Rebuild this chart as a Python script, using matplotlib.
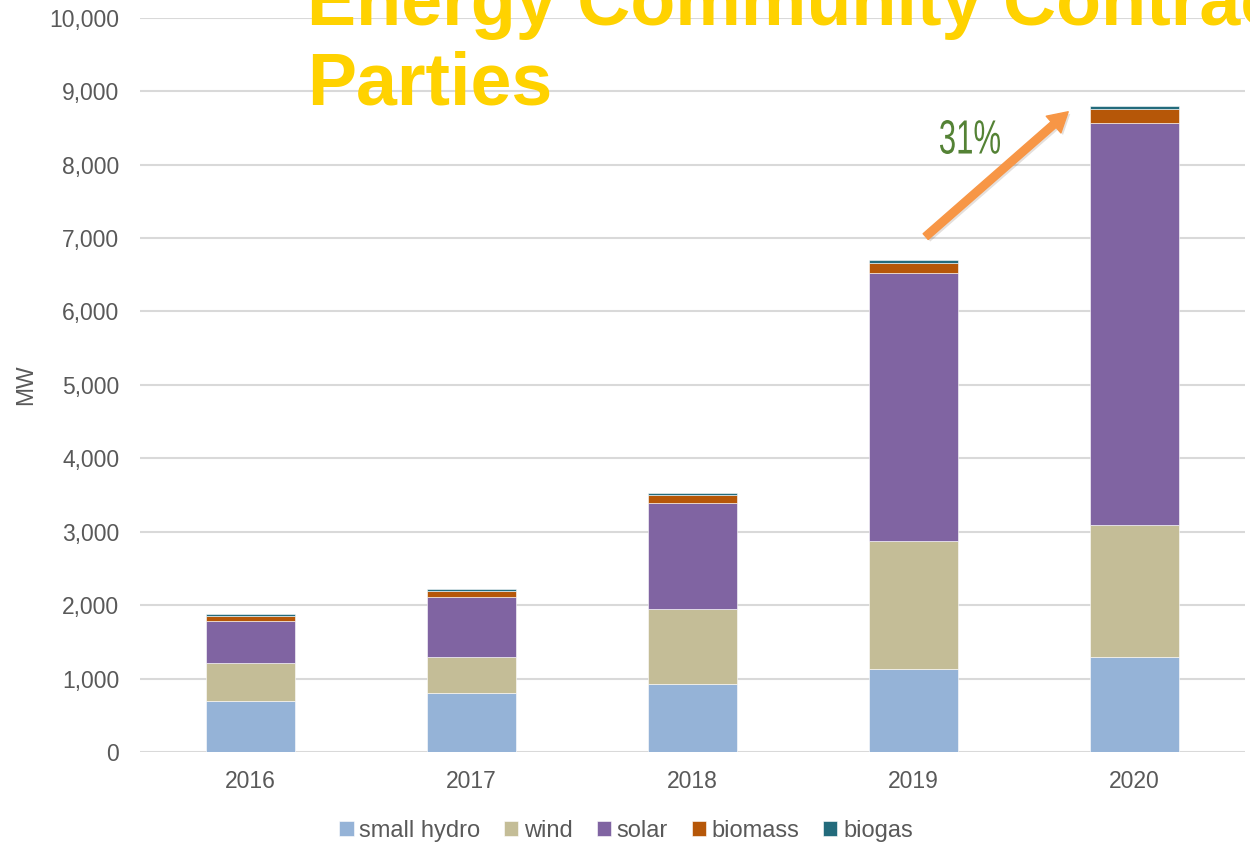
import matplotlib
matplotlib.use("Agg")
import matplotlib.pyplot as plt
import numpy as np
from matplotlib.textpath import TextPath
from matplotlib.patches import PathPatch
from matplotlib.transforms import Affine2D
from matplotlib.font_manager import FontProperties
import matplotlib.patheffects as pe

plt.rcParams['font.family'] = ['Liberation Sans', 'DejaVu Sans']

years = ['2016', '2017', '2018', '2019', '2020']
small_hydro = [700, 808, 925, 1130, 1295]
wind = [517, 486, 1027, 1745, 1800]
solar = [573, 814, 1444, 3647, 5467]
biomass = [63, 85, 100, 145, 195]
biogas = [27, 28, 33, 36, 45]

series = [('small hydro', small_hydro, '#95B3D7'),
          ('wind', wind, '#C4BD97'),
          ('solar', solar, '#8064A2'),
          ('biomass', biomass, '#B65708'),
          ('biogas', biogas, '#236B7C')]

fig = plt.figure(figsize=(12.5, 8.46), dpi=100)
ax = fig.add_axes([0.112, 0.111, 0.884, 0.868])

x = np.arange(len(years))
bottom = np.zeros(len(years))
for name, vals, col in series:
    ax.bar(x, vals, 0.4, bottom=bottom, color=col, label=name,
           edgecolor='white', linewidth=0.4, zorder=3)
    bottom += np.array(vals)

ax.set_xlim(-0.5, 4.5)
ax.set_ylim(0, 10000)
ax.set_yticks(range(0, 10001, 1000))
ax.set_yticklabels(['{:,}'.format(v) for v in range(0, 10001, 1000)])
ax.set_xticks(x)
ax.set_xticklabels(years)
ax.tick_params(length=0, labelsize=16.5, colors='#595959')
ax.tick_params(axis='y', pad=15)
ax.tick_params(axis='x', pad=13)
ax.yaxis.grid(True, color='#d9d9d9', linewidth=1.5, zorder=0)
for s in ax.spines.values():
    s.set_visible(False)
ax.set_ylabel('MW', fontsize=16.5, color='#595959', labelpad=9)

leg = ax.legend(loc='center', bbox_to_anchor=(0.44, -0.107), ncol=5,
                frameon=False, fontsize=17, handlelength=0.6, handleheight=0.6,
                handletextpad=0.25, columnspacing=1.0)
for t in leg.get_texts():
    t.set_color('#595959')

# growth arrow between 2019 and 2020
ax.annotate('', xy=(3.70, 8720), xytext=(3.055, 7020),
            arrowprops=dict(arrowstyle='simple,head_width=1.6,head_length=1.4,tail_width=0.55',
                            color='#F79646', shrinkA=0, shrinkB=0,
                            path_effects=[pe.SimplePatchShadow(offset=(1.5, -1.5), alpha=0.15),
                                          pe.Normal()]), zorder=5)

# narrow "31%" label: text path squeezed horizontally
tp = TextPath((0, 0), '31%', size=46, prop=FontProperties(family='Liberation Sans'))
bb = tp.get_extents()
sx = 60 / bb.width
tr = Affine2D().translate(-bb.x0, -bb.y0).scale(sx, 34 / bb.height).translate(940, 846 - 154)
ax.add_patch(PathPatch(tr.transform_path(tp), transform=None, color='#548235',
                       lw=0, zorder=6, clip_on=False))

title_kw = dict(fontsize=53, fontweight='bold', color='#FFD200', ha='left', va='baseline')
fig.text(0.2455, 0.970, 'Energy Community Contracted', **title_kw)
fig.text(0.2455, 0.876, 'Parties', **title_kw)

fig.savefig('out.png', dpi=100)
